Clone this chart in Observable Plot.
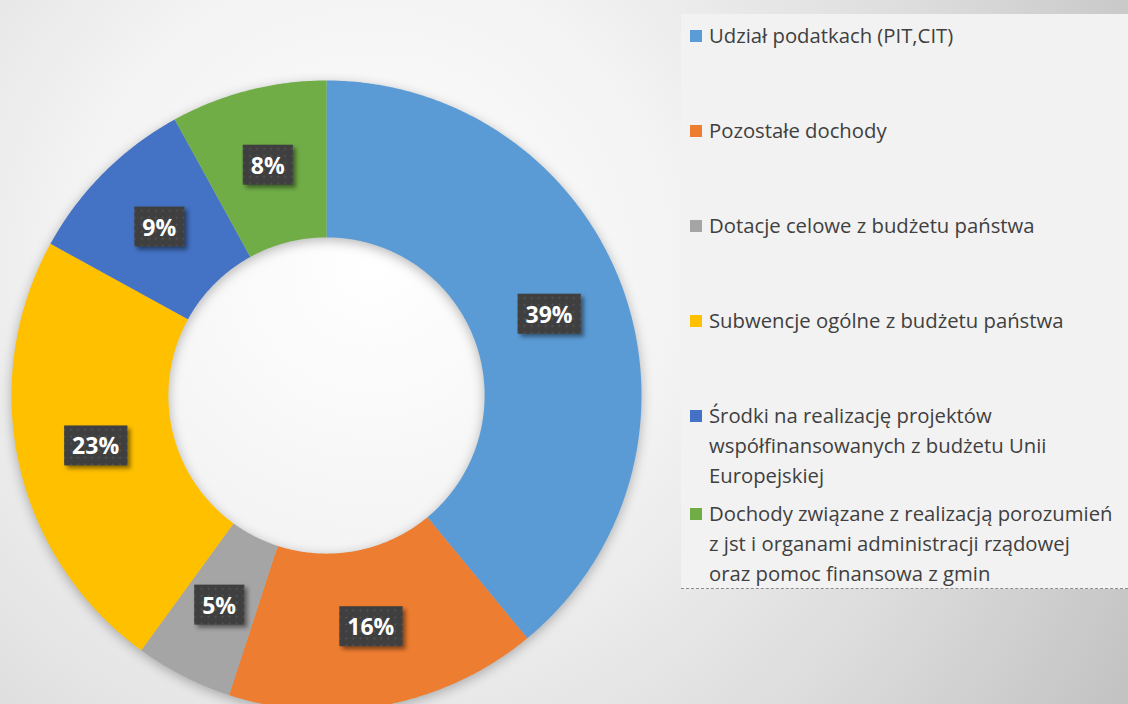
<!DOCTYPE html>
<html>
<head>
<meta charset="utf-8">
<script src="https://cdn.jsdelivr.net/npm/d3@7"></script>
<script src="https://cdn.jsdelivr.net/npm/@observablehq/plot@0.6"></script>
<style>
  html, body { margin: 0; padding: 0; }
  body {
    width: 1128px; height: 704px; overflow: hidden; position: relative;
    background: radial-gradient(circle farthest-corner at 33% 38%, #ffffff 0%, #f3f3f3 35%, #dcdcdc 70%, #c2c2c2 100%);
    font-family: "Open Sans", Lato, sans-serif;
  }
  #chart { position: absolute; left: 0; top: 0; }
  #legend {
    position: absolute; left: 681px; top: 14px; width: 447px; height: 575px;
    background: #f2f2f2; border-bottom: 1px dashed #8c8c8c; box-sizing: border-box;
    padding-top: 6px; padding-left: 9px;
  }
  .item { display: flex; align-items: flex-start; color: #404040; font-size: 20.3px; line-height: 30px; white-space: pre; }
  .sw { width: 12px; height: 12px; margin-top: 10px; margin-right: 7px; flex: none; }
  .item:nth-child(-n+4) { margin-bottom: 65px; }
  .item:nth-child(5) { margin-bottom: 7.5px; }
</style>
</head>
<body>
<div id="chart"></div>
<div id="legend"></div>
<script>
const categories = [
  "Udział podatkach (PIT,CIT)",
  "Pozostałe dochody",
  "Dotacje celowe z budżetu państwa",
  "Subwencje ogólne z budżetu państwa",
  "Środki na realizację projektów współfinansowanych z budżetu Unii Europejskiej",
  "Dochody związane z realizacją porozumień z jst i organami administracji rządowej oraz pomoc finansowa z gmin"
];
const legendLines = [
  "Udział podatkach (PIT,CIT)",
  "Pozostałe dochody",
  "Dotacje celowe z budżetu państwa",
  "Subwencje ogólne z budżetu państwa",
  "Środki na realizację projektów\nwspółfinansowanych z budżetu Unii\nEuropejskiej",
  "Dochody związane z realizacją porozumień\nz jst i organami administracji rządowej\noraz pomoc finansowa z gmin"
];
const values = [39, 16, 5, 23, 9, 8];
const valueLabels = ["39%", "16%", "5%", "23%", "9%", "8%"];
const colors = ["#5B9BD5", "#ED7D31", "#A5A5A5", "#FFC000", "#4472C4", "#70AD47"];

const outerR = 1, innerR = 0.502;
const arcs = d3.pie().sort(null).value(d => d)(values);

const ring = [];
arcs.forEach((a, i) => {
  const n = Math.max(8, Math.ceil((a.endAngle - a.startAngle) * 120));
  for (let k = 0; k <= n; k++) {
    const t = a.startAngle + (a.endAngle - a.startAngle) * k / n;
    ring.push({cat: categories[i], x: outerR * Math.sin(t), y: outerR * Math.cos(t)});
  }
  for (let k = n; k >= 0; k--) {
    const t = a.startAngle + (a.endAngle - a.startAngle) * k / n;
    ring.push({cat: categories[i], x: innerR * Math.sin(t), y: innerR * Math.cos(t)});
  }
});
const labelPts = arcs.map((a, i) => {
  const m = (a.startAngle + a.endAngle) / 2, r = (outerR + innerR) / 2;
  return {label: valueLabels[i], x: r * Math.sin(m), y: r * Math.cos(m)};
});

const W = 1128, H = 704, cx = 326, cy = 395, R = 315;
const plot = Plot.plot({
  width: W, height: H, margin: 0,
  x: {domain: [-cx / R, (W - cx) / R], axis: null},
  y: {domain: [(cy - H) / R, cy / R], axis: null},
  color: {domain: categories, range: colors},
  style: {background: "transparent", overflow: "visible"},
  marks: [
    Plot.line(ring, {x: "x", y: "y", z: "cat", fill: "cat", stroke: "none", curve: "linear-closed"}),
    Plot.text(labelPts, {x: "x", y: "y", text: "label", fill: "white", fontSize: 23, fontWeight: "bold", fontFamily: "'Open Sans', Lato, sans-serif"})
  ]
});
document.getElementById("chart").append(plot);

const svg = d3.select(plot);
svg.select('g[aria-label="line"]').style("filter", "drop-shadow(0px 3px 6px rgba(0,0,0,0.28))");
const defs = svg.insert("defs", ":first-child");
const pat = defs.append("pattern").attr("id", "dots").attr("width", 7).attr("height", 7).attr("patternUnits", "userSpaceOnUse");
pat.append("rect").attr("width", 7).attr("height", 7).attr("fill", "#3f3f3f");
pat.append("circle").attr("cx", 3.5).attr("cy", 3.5).attr("r", 1).attr("fill", "#565656");

svg.selectAll('g[aria-label="text"] text').each(function() {
  const b = this.getBBox();
  const w = b.width + 16, h = 40;
  const mx = b.x + b.width / 2, my = b.y + b.height / 2;
  const tr = this.getAttribute("transform") || "";
  d3.select(this.parentNode).insert("rect", () => this)
    .attr("transform", tr)
    .attr("x", mx - w / 2).attr("y", my - h / 2).attr("width", w).attr("height", h)
    .attr("fill", "url(#dots)")
    .style("filter", "drop-shadow(3px 3px 2px rgba(0,0,0,0.45))");
});

const legend = d3.select("#legend");
legendLines.forEach((t, i) => {
  const it = legend.append("div").attr("class", "item");
  it.append("div").attr("class", "sw").style("background", colors[i]);
  it.append("div").text(t);
});
</script>
</body>
</html>
